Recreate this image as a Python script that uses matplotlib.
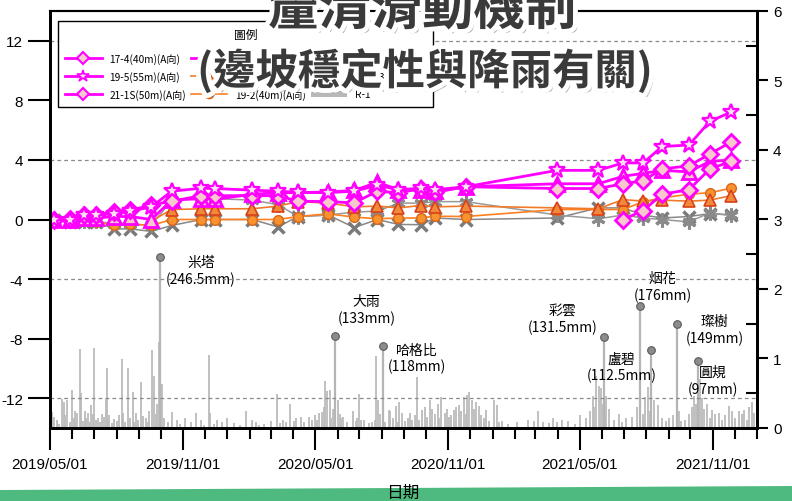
import numpy as np
import pandas as pd
import matplotlib
matplotlib.use("Agg")
import matplotlib.pyplot as plt
import matplotlib.dates as mdates
import matplotlib.patheffects as pe
from matplotlib.patches import Polygon, Patch
from matplotlib.lines import Line2D

plt.rcParams['font.family'] = ['Liberation Sans', 'Noto Sans CJK TC', 'DejaVu Sans']
CJK = ['Noto Sans CJK TC', 'DejaVu Sans']

# ---------------- data ----------------
meas_dates = ['2019-05-07', '2019-05-28', '2019-06-17', '2019-07-04', '2019-07-29',
              '2019-08-20', '2019-09-18', '2019-10-16', '2019-11-26', '2019-12-15',
              '2020-02-04', '2020-03-11', '2020-04-07', '2020-05-19', '2020-06-24',
              '2020-07-26', '2020-08-24', '2020-09-24', '2020-10-14', '2020-11-25',
              '2021-03-31', '2021-05-27', '2021-06-30', '2021-07-28', '2021-08-23',
              '2021-09-29', '2021-10-28', '2021-11-26']
nan = np.nan

disp_17_4 = [0, 0.05, 0.33, 0.33, 0.5, 0.63, 0.96, 1.23, 1.6, 1.6, 1.6, 1.6, 1.23, 1.2,
             1.12, 1.9, 1.8, 2.06, 1.83, 2.2, 2.08, 2.08, 2.4, 2.6, 3.4, 3.6, 4.4, 5.2]
disp_19_5 = [0, 0.0, 0.3, 0.3, 0.4, 0.55, 0.85, 1.9, 2.1, 2.08, 1.97, 1.9, 1.83, 1.8,
             1.9, 2.3, 2.0, 2.1, 2.0, 2.2, 3.3, 3.3, 3.8, 3.8, 4.9, 5.0, 6.6, 7.2]
disp_21_1s = [nan] * 22 + [0, 0.6, 1.7, 2.0, 3.4, 3.9]
disp_19_4 = [0, 0, 0.1, 0.1, 0.2, 0.2, 0.0, 1.3, 1.4, 1.35, 1.7, 1.8, 1.8, 1.85,
             1.95, 2.5, 2.0, 2.0, 1.9, 2.2, 2.4, 2.4, 2.9, 3.1, 3.3, 3.2, 3.9, 4.0]
disp_18_3 = [nan] * 6 + [-0.1, 0.67, 0.72, 0.72, 0.72, 0.9, 1.2, 1.1, 0.85, 0.9, 0.78,
                         0.94, 0.85, 0.9, 0.78, 0.72, 1.34, 1.23, 1.3, 1.23, 1.3, 1.6]
disp_19_2 = [0, 0, -0.1, -0.2, -0.34, -0.3, -0.4, 0.0, 0, 0, 0, 0, 0.2, 0.38, 0.16,
             0.05, 0.1, 0.1, 0.22, 0.2, 0.67, 0.67, 0.67, 1.2, 1.45, 1.7, 1.8, 2.1]
disp_20_7 = [0, -0.2, -0.2, -0.2, -0.63, -0.63, -0.8, -0.4, 0, 0, 0, -0.5, 0.2, 0.3,
             -0.54, 0, -0.33, -0.35, 0.1, 0.0, 0.1, 0.78, 0.78, 0.3, 0.1, 0.2, 0.4, 0.3]
disp_20_8 = [0, -0.1, -0.1, -0.1, -0.3, -0.3, -0.4, 1.3, 1.5, 1.4, 1.3, 1.0, 0.2, 0.3,
             0.5, 0.56, 1.1, 1.1, 1.2, 1.2, 0.3, 0.05, 0.3, 0.1, 0.0, -0.16, 0.45, 0.27]

# daily rainfall at R-1: day number counted from rain_start, amount in mm
rain_start = '2019-05-01'
rain_day = [1, 3, 6, 9, 12, 16, 19, 21, 24, 27, 30, 33, 35, 37, 41, 43, 46, 48, 50, 52,
            55, 57, 59, 61, 63, 66, 69, 72, 74, 77, 78, 80, 82, 85, 88, 92, 95, 99, 101, 104,
            108, 111, 114, 116, 119, 122, 126, 129, 133, 135, 137, 141, 143, 146, 148, 150,
            154, 157, 163, 169, 176, 180, 186, 194, 202, 209, 213, 219, 221, 226, 231, 238,
            244, 254, 262, 270, 279, 284, 289, 296, 305, 314, 318, 321, 326, 331, 337, 340,
            347, 351, 358, 362, 366, 368, 372, 376, 378, 380, 383, 386, 388, 390, 394, 397,
            400, 402, 405, 410, 418, 422, 424, 427, 430, 434, 441, 445, 448, 450, 453, 456,
            463, 468, 470, 473, 478, 480, 482, 486, 490, 494, 497, 500, 504, 507, 510, 514,
            518, 521, 524, 528, 531, 535, 537, 540, 545, 548, 551, 553, 558, 561, 565, 568,
            572, 574, 576, 579, 583, 586, 588, 592, 595, 599, 602, 606, 613, 617, 620, 624,
            632, 645, 660, 668, 674, 680, 689, 695, 700, 707, 715, 725, 731, 740, 745, 749,
            751, 754, 758, 761, 763, 766, 768, 772, 778, 786, 790, 795, 804, 810, 818, 822,
            825, 828, 834, 840, 845, 850, 855, 860, 868, 871, 876, 882, 886, 889, 892, 897,
            900, 903, 907, 911, 914, 918, 924, 928, 932, 938, 942, 946, 951, 955, 958, 962,
            965, 969, 972]
rain_mm = [8, 23, 16, 12, 6, 42, 37, 18, 40, 9, 55, 14, 25, 22, 114, 50, 10, 24, 15, 22,
           8, 33, 20, 115, 12, 14, 9, 20, 16, 42, 86, 11, 18, 7, 13, 10, 18, 99, 22, 9,
           86, 14, 52, 8, 22, 12, 66, 17, 14, 9, 24, 112, 75, 20, 35, 124,
           63, 15, 9, 23, 12, 6, 14, 8, 22, 11, 5, 105, 22, 6, 11, 9,
           14, 7, 5, 25, 12, 8, 5, 6, 10, 49, 7, 12, 9, 35, 10, 14,
           16, 8, 16, 11, 18, 12, 22, 23, 30, 68, 53, 54, 15, 27, 66, 41,
           20, 14, 16, 9, 24, 10, 14, 49, 12, 11, 7, 8, 12, 104, 40, 20,
           9, 26, 25, 15, 31, 8, 38, 22, 10, 14, 22, 11, 18, 73, 12, 26,
           30, 16, 40, 28, 20, 35, 15, 44, 22, 28, 16, 18, 26, 30, 33, 25,
           45, 20, 47, 52, 40, 28, 38, 31, 18, 15, 26, 10, 40, 33, 8, 10,
           6, 8, 12, 10, 24, 9, 7, 14, 8, 12, 10, 6, 19, 15, 25, 46,
           30, 75, 61, 57, 35, 20, 46, 28, 12, 20, 9, 14, 16, 30, 20, 45,
           59, 25, 40, 33, 15, 10, 14, 18, 25, 10, 12, 20, 30, 46, 35, 70,
           43, 28, 35, 15, 26, 20, 22, 12, 18, 31, 24, 15, 24, 20, 26, 12,
           30, 37, 22]

storm_names = ['米塔', '大雨', '哈格比', '彩雲', '烟花', '盧碧', '璨樹', '圓規']
storm_dates = ['2019-09-30', '2020-05-28', '2020-08-03', '2021-06-04', '2021-07-24',
               '2021-08-08', '2021-09-13', '2021-10-11']
storm_mm = [246.5, 133, 118, 131.5, 176, 112.5, 149, 97]

# ---------------- figure ----------------
fig = plt.figure(figsize=(7.92, 5.02), dpi=100)
ax = fig.add_axes([50 / 792, 73 / 502, 707 / 792, 417 / 502])
ax2 = ax.twinx()
ax.set_zorder(2)
ax.patch.set_visible(False)

# rainfall on the right axis, in units of 100 mm
rdates = pd.to_datetime(rain_start) + pd.to_timedelta(rain_day, unit='D')
ax2.vlines(rdates, 0, np.array(rain_mm) / 100, color='#bbbbbb', lw=1.3)
sdates = pd.to_datetime(storm_dates)
ax2.vlines(sdates, 0, np.array(storm_mm) / 100, color='#b5b5b5', lw=1.6)
ax2.plot(sdates, np.array(storm_mm) / 100, 'o', ms=5.5, mfc='#8c8c8c', mec='#5a5a5a', mew=0.8)

label_offsets = [(41, -14), (32, 26), (34, -12), (-42, 18), (22, 19), (-30, -17), (37, -5), (15, -20)]
for name, d, mm, off in zip(storm_names, sdates, storm_mm, label_offsets):
    ax2.annotate(f'{name}\n({mm:g}mm)', (d, mm / 100), xytext=off, textcoords='offset pixels',
                 ha='center', va='center', fontsize=10, family=CJK, linespacing=1.2)

ax2.set_ylim(0, 6)
ax2.set_yticks(np.arange(0, 7, 1))
ax2.set_yticks(np.arange(0.5, 6, 1), minor=True)
ax2.tick_params(axis='y', which='major', direction='out', length=8, width=1.5, labelsize=11)
ax2.tick_params(axis='y', which='minor', direction='in', length=8, width=1.5)

# inclinometer displacement on the left axis
mdt = pd.to_datetime(meas_dates)
mag = '#ff00ff'
pink = '#f8c8cc'
ax.plot(mdt, disp_20_7, color='#888888', lw=1.1, marker='x', ms=8, mew=2.5, mec='#7a7a7a')
ax.plot(mdt, disp_20_8, color='#999999', lw=1.1, marker=(6, 2, 0), ms=10, mew=2.2, mec='#8a8a8a')
ax.plot(mdt, disp_19_2, color='#ff7f1e', lw=1.2, marker='o', ms=7, mfc='#f7922e', mec='#d9661a', mew=1)
ax.plot(mdt, disp_18_3, color='#f07a2a', lw=1.2, marker='^', ms=8, mfc='#f08a3a', mec='#d8401a', mew=1.2)
ax.plot(mdt, disp_19_4, color=mag, lw=2, marker='^', ms=10, mfc=pink, mec=mag, mew=2)
ax.plot(mdt, disp_21_1s, color=mag, lw=2, marker='D', ms=8.5, mfc=pink, mec=mag, mew=2)
ax.plot(mdt, disp_17_4, color=mag, lw=2, marker='D', ms=8.5, mfc=pink, mec=mag, mew=2)
ax.plot(mdt, disp_19_5, color=mag, lw=2, marker='*', ms=12, mfc='#fbe0f0', mec=mag, mew=1.6)

ax.set_ylim(-14, 14)
ax.set_yticks([12, 8, 4, 0, -4, -8, -12])
ax.set_yticklabels(['12', '8', '4', '0', '-4', '-8', '-12'])
for g in (12, 4, -4, -12):
    ax.axhline(g, color='#8a8a8a', lw=0.9, ls=(0, (3, 2.5)), zorder=0)
ax.tick_params(axis='y', direction='out', length=16, width=1.5, labelsize=11)

ax.set_xlim(pd.Timestamp('2019-05-01'), pd.Timestamp('2022-01-01'))
ax.xaxis.set_major_locator(mdates.MonthLocator(bymonth=(5, 11)))
ax.xaxis.set_minor_locator(mdates.MonthLocator())
ax.xaxis.set_major_formatter(mdates.DateFormatter('%Y/%m/%d'))
ax.tick_params(axis='x', which='major', direction='out', length=16, width=1.5, labelsize=11, pad=5)
ax.tick_params(axis='x', which='minor', direction='out', length=8, width=1.5)

for s in ('left', 'right', 'bottom'):
    ax.spines[s].set_linewidth(2)
    ax2.spines[s].set_linewidth(2)
ax.spines['top'].set_linewidth(1.5)
ax2.spines['top'].set_linewidth(1.5)

# legend
handles = [
    Line2D([], [], color=mag, lw=2, marker='D', ms=6.5, mfc=pink, mec=mag, mew=1.5),
    Line2D([], [], color=mag, lw=2, marker='*', ms=9, mfc='#fbe0f0', mec=mag, mew=1.2),
    Line2D([], [], color=mag, lw=2, marker='D', ms=6.5, mfc=pink, mec=mag, mew=1.5),
    Line2D([], [], color=mag, lw=2, marker='^', ms=7, mfc=pink, mec=mag, mew=1.5),
    Line2D([], [], color='#f07a2a', lw=1.2, marker='^', ms=7, mfc='#f08a3a', mec='#d8401a'),
    Line2D([], [], color='#ff7f1e', lw=1.2, marker='o', ms=6, mfc='#f7922e', mec='#d9661a'),
    Line2D([], [], color='#888888', lw=1.1, marker='x', ms=6, mew=2, mec='#7a7a7a'),
    Line2D([], [], color='#999999', lw=1.1, marker=(6, 2, 0), ms=7, mew=1.8, mec='#8a8a8a'),
    Patch(facecolor='#b8b8b8', edgecolor='none'),
]
labels = ['17-4(40m)(A向)', '19-5(55m)(A向)', '21-1S(50m)(A向)',
          '19-4(40m)(A向)', '18-3(30m)(A向)', '19-2(40m)(A向)',
          '20-7(40m)(A向)', '20-8(30m)(A向)', 'R-1']
leg = ax.legend(handles, labels, ncol=3, loc='upper left', bbox_to_anchor=(8 / 707, 1 - 10 / 417),
                borderaxespad=0, prop={'family': CJK, 'size': 7.3}, title='圖例',
                title_fontproperties={'family': CJK, 'size': 8.5},
                frameon=True, fancybox=False, edgecolor='black', framealpha=1,
                handlelength=3.6, columnspacing=0.5, handletextpad=0.75, labelspacing=0.7,
                borderpad=0.7)
leg._legend_box.sep = 8.5
leg.get_frame().set_linewidth(1.0)

# headline
fx = pe.SimplePatchShadow(offset=(3, -3), shadow_rgbFace='#555555', alpha=0.45)
effects = [fx, pe.withStroke(linewidth=7, foreground='white')]
fig.text(422 / 792, 1 - 10 / 502, '釐清滑動機制', ha='center', va='center', fontsize=37,
         fontweight='bold', family=CJK, color='#3a3a3a', path_effects=effects, zorder=10)
fig.text(425 / 792, 1 - 72 / 502, '(邊坡穩定性與降雨有關)', ha='center', va='center', fontsize=30.5,
         fontweight='bold', family=CJK, color='#3a3a3a', path_effects=effects, zorder=10)

# green footer band
band = Polygon([[0, 0], [1, 0], [1, 1 - 487 / 502], [0, 1 - 491 / 502]], closed=True,
               transform=fig.transFigure, facecolor='#4fba7f', edgecolor='none', zorder=0)
fig.patches.append(band)
fig.text(403 / 792, 1 - 493 / 502, '日期', ha='center', va='center', fontsize=12, family=CJK, zorder=5)

fig.savefig('out.png', dpi=100)
